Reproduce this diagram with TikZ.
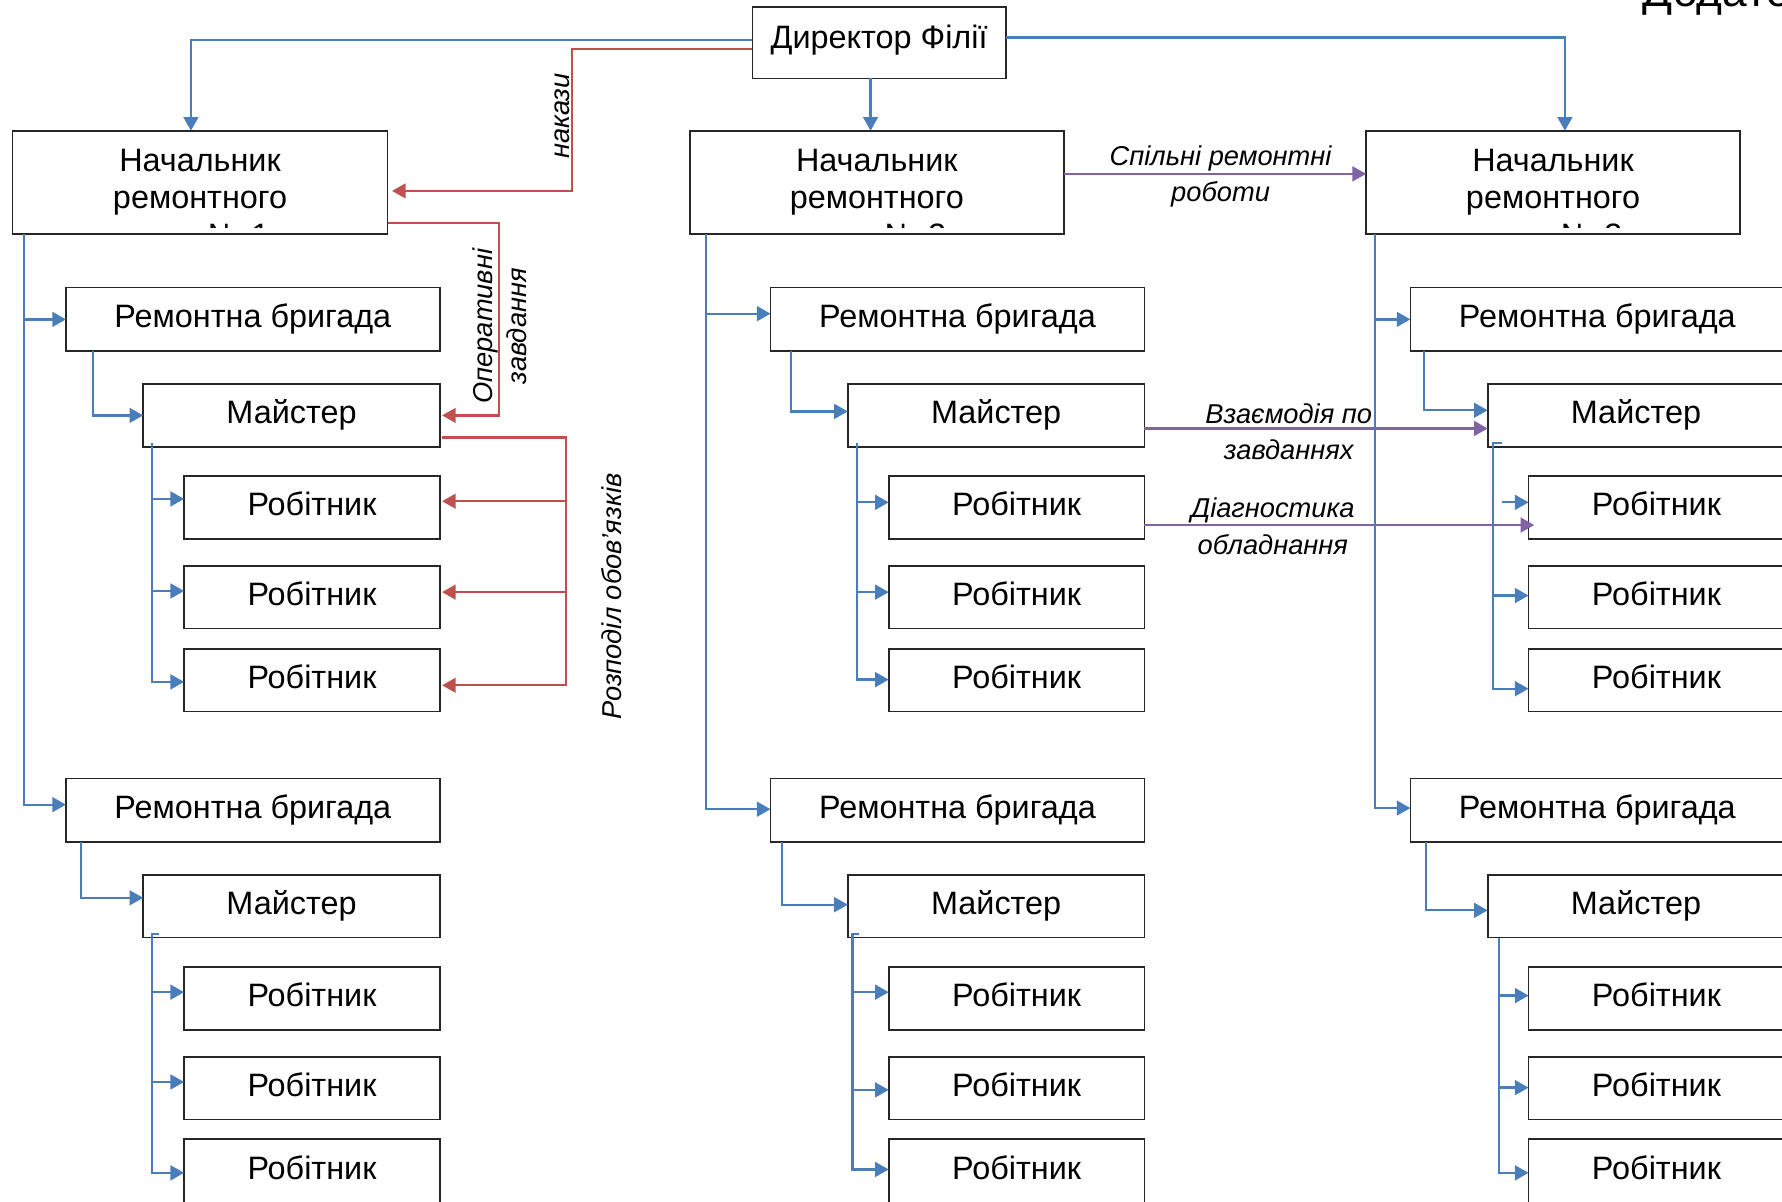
\documentclass[tikz,border=0pt]{standalone}
\usepackage{fontspec}
\setmainfont{Liberation Sans}
\usetikzlibrary{arrows.meta,calc}
\definecolor{bluec}{HTML}{4A7EBB}
\definecolor{redc}{HTML}{C0504D}
\definecolor{purc}{HTML}{8064A2}
\newcommand\boxfont{\fontsize{14.25pt}{16.5pt}\selectfont}
\newcommand\labfont{\itshape\fontsize{12pt}{16pt}\selectfont}
\newcommand\mkbox[6]{%
  \pgfmathsetmacro\bxcx{(#2+#4)/2}%
  \pgfmathsetmacro\bxcy{(#3+#5)/2}%
  \pgfmathsetmacro\bxw{(#4-#2)*0.5}%
  \pgfmathsetmacro\bxh{(#5-#3)*0.5}%
  \node[box, minimum width=\bxw pt, minimum height=\bxh pt] (#1) at (\bxcx,\bxcy) {#6};%
}
\tikzset{
  box/.style={draw=black!85, line width=0.75pt, inner sep=0pt, outer sep=0pt,
    font=\boxfont, text height=0.71em, text depth=0pt},
  topbox/.style={text height=0.75em, text depth=0.25em},
  bl/.style={draw=bluec, line width=1pt},
  ba/.style={bl, -{Triangle[length=6pt,width=6.5pt]}},
  ra/.style={draw=redc, line width=1pt, -{Triangle[length=6pt,width=6.5pt]}},
  pa/.style={draw=purc, line width=1.1pt, -{Triangle[length=6pt,width=6.5pt]}},
  lab/.style={font=\labfont, inner sep=0pt}
}
\begin{document}
\begin{tikzpicture}[x=0.5pt,y=-0.5pt]
\useasboundingbox (0,0) rectangle (1568,1057);
\clip (0,0) rectangle (1568,1057);

% ---------- boxes ----------
\node[box, topbox, minimum width=111.5pt, minimum height=31.5pt] (D) at (773.5,37.5) {Директор Філії};
\mkbox{N1}{11}{115}{341}{206}{}
\mkbox{N2}{607}{115}{936}{206}{}
\mkbox{N3}{1202}{115}{1531}{206}{}

% column 1
\mkbox{B1a}{58}{253}{387}{309}{Ремонтна бригада}
\mkbox{M1a}{126}{338}{387}{393}{Майстер}
\mkbox{W1a1}{162}{419}{387}{474}{Робітник}
\mkbox{W1a2}{162}{498}{387}{553}{Робітник}
\mkbox{W1a3}{162}{571}{387}{626}{Робітник}
\mkbox{B1b}{58}{685}{387}{741}{Ремонтна бригада}
\mkbox{M1b}{126}{770}{387}{825}{Майстер}
\mkbox{W1b1}{162}{851}{387}{906}{Робітник}
\mkbox{W1b2}{162}{930}{387}{985}{Робітник}
\mkbox{W1b3}{162}{1002}{387}{1059}{Робітник}

% column 2
\mkbox{B2a}{678}{253}{1007}{309}{Ремонтна бригада}
\mkbox{M2a}{746}{338}{1007}{393}{Майстер}
\mkbox{W2a1}{782}{419}{1007}{474}{Робітник}
\mkbox{W2a2}{782}{498}{1007}{553}{Робітник}
\mkbox{W2a3}{782}{571}{1007}{626}{Робітник}
\mkbox{B2b}{678}{685}{1007}{741}{Ремонтна бригада}
\mkbox{M2b}{746}{770}{1007}{825}{Майстер}
\mkbox{W2b1}{782}{851}{1007}{906}{Робітник}
\mkbox{W2b2}{782}{930}{1007}{985}{Робітник}
\mkbox{W2b3}{782}{1002}{1007}{1059}{Робітник}

% column 3
\mkbox{B3a}{1241}{253}{1570}{309}{Ремонтна бригада}
\mkbox{M3a}{1309}{338}{1570}{393}{Майстер}
\mkbox{W3a1}{1345}{419}{1570}{474}{Робітник}
\mkbox{W3a2}{1345}{498}{1570}{553}{Робітник}
\mkbox{W3a3}{1345}{571}{1570}{626}{Робітник}
\mkbox{B3b}{1241}{685}{1570}{741}{Ремонтна бригада}
\mkbox{M3b}{1309}{770}{1570}{825}{Майстер}
\mkbox{W3b1}{1345}{851}{1570}{906}{Робітник}
\mkbox{W3b2}{1345}{930}{1570}{985}{Робітник}
\mkbox{W3b3}{1345}{1002}{1570}{1059}{Робітник}

% clipped three-line texts of the heads
\foreach \n/\k in {N1/1,N2/2,N3/3}{
  \begin{scope}
    \clip (\n.north west) rectangle ($(\n.south east)+(0,-6)$);
    \node[align=center, font=\boxfont, inner sep=0pt] (t\n) at ($(\n.center)+(0,16.5)$) {Начальник\\ремонтного\\цеху №~\k};
  \end{scope}
}

\node[anchor=base west, font=\fontsize{19.5pt}{22pt}\selectfont, inner sep=0pt] (dod) at (1445,6) {Додаток};

% ---------- director connectors ----------
\draw[ba] ($(D.west)+(0,-2.5)$) -| ($(N1.north)+(-8,0)$);
\draw[ra] ($(D.west)+(0,5.5)$) -| ($(N1.east)+(162,7.5)$) -- ($(N1.east)+(4,7.5)$);
\draw[ba] ($(D.south)+(-7.5,0)$) -- ($(D.south |- N2.north)+(-7.5,0)$);
\draw[ba] ($(D.east)+(0,-4.5)$) -| ($(N3.north)+(10.5,0)$);
\draw[pa] ($(N2.east)+(0,-7.5)$) -- ($(N3.west)+(0,-7.5)$);

% ---------- column 1 ----------
\draw[ba] ($(N1.south west)+(10,0)$) |- ($(B1b.west)+(0,-5)$);
\draw[ba] ($(N1.south west |- B1a.west)+(10,0)$) -- (B1a.west);
\draw[ba] ($(B1a.south west)+(24,0)$) |- (M1a.west);
\draw[ba] ($(M1a.south west)+(8,-3)$) |- ($(W1a3.west)+(0,1.5)$);
\draw[ba] ($(M1a.south west |- W1a1.west)+(8,-7.5)$) -- ($(W1a1.west)+(0,-7.5)$);
\draw[ba] ($(M1a.south west |- W1a2.west)+(8,-5.5)$) -- ($(W1a2.west)+(0,-5.5)$);
\draw[ra] ($(N1.south east)+(0,-10)$) -| ($(M1a.east)+(52,0)$) -- ($(M1a.east)+(2,0)$);
\draw[ra] ($(M1a.south east)+(2,-8)$) -| ($(W1a3.east)+(111,4.5)$) -- ($(W1a3.east)+(2,4.5)$);
\draw[ra] ($(W1a1.east)+(111,-5.5)$) -- ($(W1a1.east)+(2,-5.5)$);
\draw[ra] ($(W1a2.east)+(111,-4.5)$) -- ($(W1a2.east)+(2,-4.5)$);

\draw[ba] ($(B1b.south west)+(13,0)$) |- ($(M1b.west)+(0,-7.5)$);
\draw[ba] ($(M1b.south west)+(14,-3)$) -- ($(M1b.south west)+(8,-3)$) |- ($(W1b3.west)+(0,1.5)$);
\draw[ba] ($(M1b.south west |- W1b1.west)+(8,-5.5)$) -- ($(W1b1.west)+(0,-5.5)$);
\draw[ba] ($(M1b.south west |- W1b2.west)+(8,-5.5)$) -- ($(W1b2.west)+(0,-5.5)$);

% ---------- column 2 ----------
\draw[ba] ($(N2.south west)+(14,0)$) |- ($(B2b.west)+(0,-1)$);
\draw[ba] ($(N2.south west |- B2a.west)+(14,-5)$) -- ($(B2a.west)+(0,-5)$);
\draw[ba] ($(B2a.south west)+(18,0)$) |- ($(M2a.west)+(0,-3.5)$);
\draw[ba] ($(M2a.south west)+(8,-3)$) |- ($(W2a3.west)+(0,-0.5)$);
\draw[ba] ($(M2a.south west |- W2a1.west)+(8,-4.5)$) -- ($(W2a1.west)+(0,-4.5)$);
\draw[ba] ($(M2a.south west |- W2a2.west)+(8,-4.5)$) -- ($(W2a2.west)+(0,-4.5)$);
\draw[ba] ($(B2b.south west)+(10,0)$) |- ($(M2b.west)+(0,-1.5)$);
\draw[ba] ($(M2b.south west)+(10,-3)$) -- ($(M2b.south west)+(4,-3)$) |- ($(W2b3.west)+(0,-1.5)$);
\draw[ba] ($(M2b.south west |- W2b1.west)+(4,-5.5)$) -- ($(W2b1.west)+(0,-5.5)$);
\draw[ba] ($(M2b.south west |- W2b2.west)+(4,1.5)$) -- ($(W2b2.west)+(0,1.5)$);

\draw[pa] ($(M2a.east)+(0,11.5)$) -- ($(M3a.west)+(0,11.5)$);
\draw[pa] ($(W2a1.east)+(0,15.5)$) -- ($(W3a1.west)+(5,15.5)$);

% ---------- column 3 ----------
\draw[ba] ($(N3.south west)+(8,0)$) |- ($(B3b.west)+(0,-2)$);
\draw[ba] ($(N3.south west |- B3a.west)+(8,0)$) -- (B3a.west);
\draw[ba] ($(B3a.south west)+(12,0)$) |- ($(M3a.west)+(0,-4.5)$);
\draw[ba] ($(M3a.south west)+(13,-3)$) -- ($(M3a.south west)+(5,-3)$) |- ($(W3a3.west)+(0,7.5)$);
\draw[ba] ($(W3a1.west)+(-23,-4.5)$) -- ($(W3a1.west)+(0,-4.5)$);
\draw[ba] ($(M3a.south west |- W3a2.west)+(5,-1.5)$) -- ($(W3a2.west)+(0,-1.5)$);
\draw[ba] ($(B3b.south west)+(14,0)$) |- ($(M3b.west)+(0,3.5)$);
\draw[ba] ($(M3b.south west)+(10,0)$) |- ($(W3b3.west)+(0,1.5)$);
\draw[ba] ($(M3b.south west |- W3b1.west)+(10,-2.5)$) -- ($(W3b1.west)+(0,-2.5)$);
\draw[ba] ($(M3b.south west |- W3b2.west)+(10,-0.5)$) -- ($(W3b2.west)+(0,-0.5)$);

% ---------- labels ----------
\node[lab, rotate=90] (lnak) at (495,102) {накази};
\node[lab, rotate=90, align=center, font=\itshape\fontsize{12pt}{15pt}\selectfont] (lop) at (440,287) {Оперативні\\завдання};
\node[lab, rotate=90] (lroz) at (538,525) {Розподіл обов’язків};
\node[lab, align=center] (lsp) at (1074,155) {Спільні ремонтні\\роботи};
\node[lab, align=center] (lvz) at (1134,380) {Взаємодія по\\завданнях};
\node[lab, align=center] (ldi) at (1120,463) {Діагностика\\обладнання};
\end{tikzpicture}
\end{document}
